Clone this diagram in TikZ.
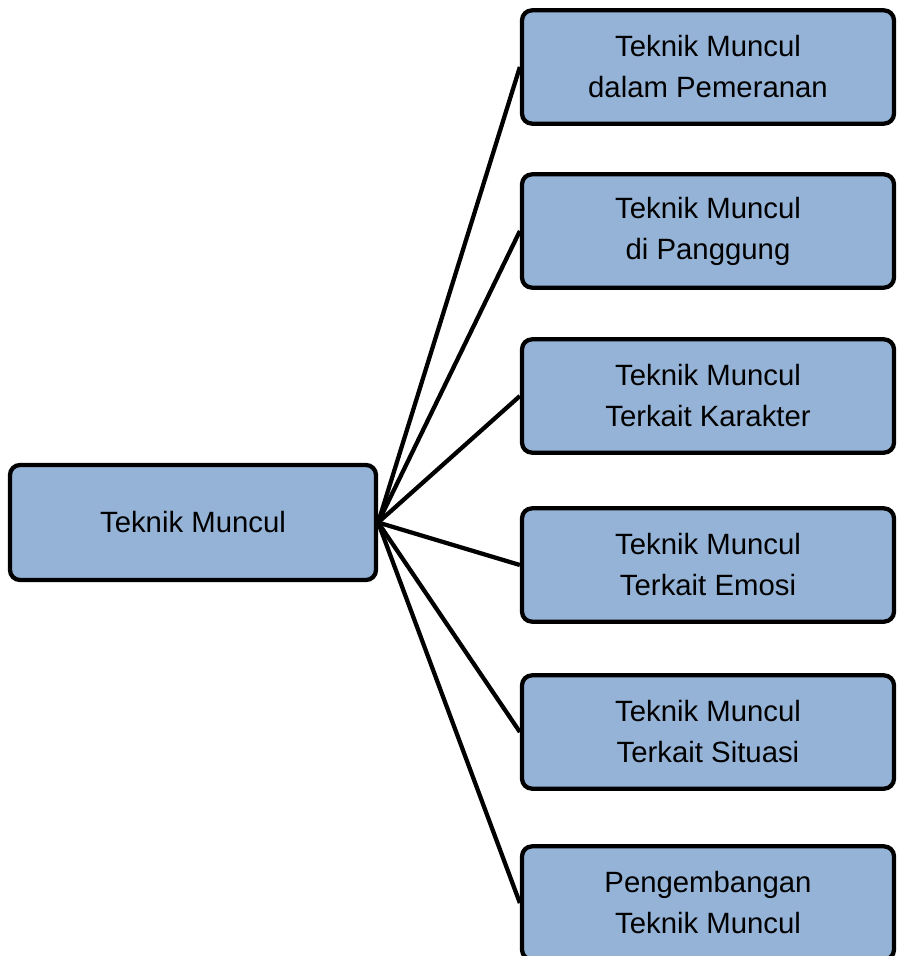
\documentclass[tikz,border=0pt]{standalone}
\usepackage{fontspec}
\setmainfont{Liberation Sans}
\definecolor{boxfill}{HTML}{95B3D7}
\begin{document}
\begin{tikzpicture}[x=0.75pt,y=-0.75pt,
  box/.style={draw=black, line width=3.2pt, fill=boxfill, rounded corners=7.5pt,
    inner sep=0pt, align=center, font=\fontsize{22pt}{30.75pt}\selectfont},
  leftbox/.style={box, minimum width=274.5pt, minimum height=86.25pt},
  rightbox/.style={box, minimum width=279pt, minimum height=85pt},
  link/.style={draw=black, line width=3.2pt}]
\useasboundingbox (0,0) rectangle (896,956);
\clip (0,0) rectangle (896,956);
\node[leftbox] (root) at (193,522.5) {Teknik Muncul};
\node[rightbox] (r1) at (708,67) {Teknik Muncul\\dalam Pemeranan};
\node[rightbox] (r2) at (708,231) {Teknik Muncul\\di Panggung};
\node[rightbox] (r3) at (708,396) {Teknik Muncul\\Terkait Karakter};
\node[rightbox] (r4) at (708,565) {Teknik Muncul\\Terkait Emosi};
\node[rightbox] (r5) at (708,732) {Teknik Muncul\\Terkait Situasi};
\node[rightbox] (r6) at (708,903) {Pengembangan\\Teknik Muncul};
\foreach \n in {r1,r2,r3,r4,r5,r6}
  \draw[link] (root.east) -- (\n.west);
\end{tikzpicture}
\end{document}
